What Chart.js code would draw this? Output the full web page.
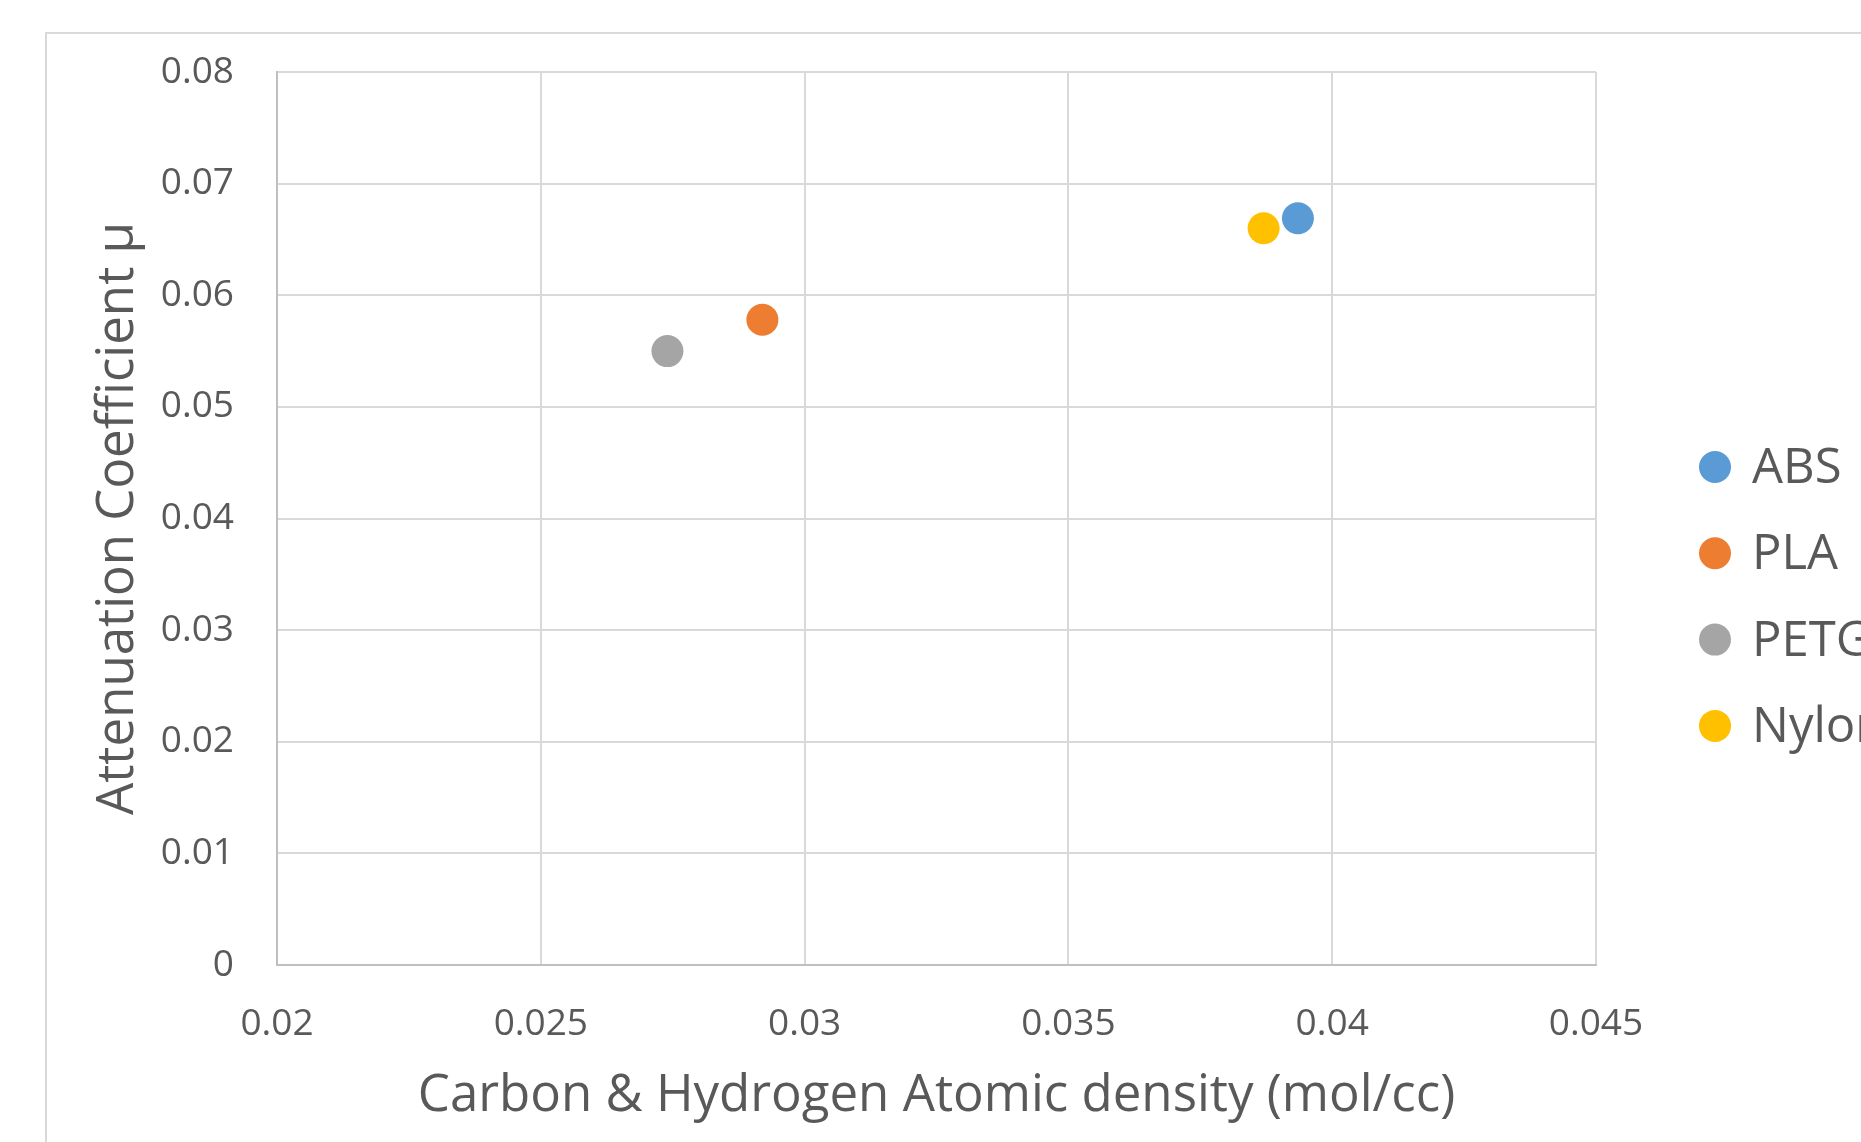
<!DOCTYPE html>
<html>
<head>
<meta charset="utf-8">
<script src="https://cdn.jsdelivr.net/npm/chart.js@4/dist/chart.umd.min.js"></script>
<style>
  html, body { margin: 0; padding: 0; background: #ffffff; }
  canvas { display: block; }
</style>
</head>
<body>
<canvas id="chart" width="1861" height="1142"></canvas>
<script>
// Materials and their measured values
const materials = ['ABS', 'PLA', 'PETG', 'Nylon'];
const atomicDensity = [0.03935, 0.0292, 0.0274, 0.0387];     // mol/cc
const attenuationCoeff = [0.0669, 0.0578, 0.0550, 0.0660];   // μ
const markerColors = ['#5b9bd5', '#ed7d31', '#a5a5a5', '#ffc000'];

// Axis tick labels
const xTickLabels = ['0.02', '0.025', '0.03', '0.035', '0.04', '0.045'];
const yTickLabels = ['0', '0.01', '0.02', '0.03', '0.04', '0.05', '0.06', '0.07', '0.08'];

const textColor = '#595959';
const fontFamily = '"Open Sans", "Noto Sans", sans-serif';

const datasets = materials.map((name, i) => ({
  label: name,
  data: [{ x: atomicDensity[i], y: attenuationCoeff[i] }],
  backgroundColor: markerColors[i],
  borderWidth: 0,
  pointRadius: 16,
  pointHoverRadius: 16
}));

// Light outer frame around the chart
const framePlugin = {
  id: 'frame',
  beforeDraw(chart) {
    const ctx = chart.ctx;
    ctx.save();
    ctx.fillStyle = '#ffffff';
    ctx.fillRect(0, 0, chart.width, chart.height);
    ctx.strokeStyle = '#d9d9d9';
    ctx.lineWidth = 2;
    ctx.strokeRect(46, 33, chart.width + 100, chart.height + 100);
    ctx.restore();
  }
};

// Legend on the right with round markers
const sideLegend = {
  id: 'sideLegend',
  afterDraw(chart) {
    const ctx = chart.ctx;
    ctx.save();
    ctx.font = '49px ' + fontFamily;
    ctx.textBaseline = 'middle';
    ctx.textAlign = 'left';
    chart.data.datasets.forEach((ds, i) => {
      const y = 467 + i * 86.3;
      ctx.beginPath();
      ctx.arc(1715, y, 16, 0, Math.PI * 2);
      ctx.fillStyle = ds.backgroundColor;
      ctx.fill();
      ctx.fillStyle = textColor;
      ctx.fillText(ds.label, 1752, y + 2);
    });
    ctx.restore();
  }
};

new Chart(document.getElementById('chart'), {
  type: 'scatter',
  data: { datasets },
  options: {
    responsive: false,
    maintainAspectRatio: false,
    devicePixelRatio: 1,
    animation: false,
    layout: { padding: { top: 72, right: 265, left: 0, bottom: 0 } },
    plugins: {
      legend: { display: false },
      tooltip: { enabled: false }
    },
    scales: {
      x: {
        type: 'linear',
        min: 0.02,
        max: 0.045,
        afterFit(scale) { scale.height = 177; },
        ticks: {
          stepSize: 0.005,
          color: textColor,
          font: { family: fontFamily, size: 37 },
          padding: 37,
          maxRotation: 0,
          callback: (v, i) => xTickLabels[i]
        },
        grid: { color: '#d9d9d9', lineWidth: 2, drawTicks: false },
        border: { color: '#bfbfbf', width: 2 },
        title: {
          display: true,
          text: 'Carbon & Hydrogen Atomic density (mol/cc)',
          color: textColor,
          font: { family: fontFamily, size: 51 },
          padding: { top: 0, bottom: 15 }
        }
      },
      y: {
        type: 'linear',
        min: 0,
        max: 0.08,
        afterFit(scale) { scale.width = 277; },
        ticks: {
          stepSize: 0.01,
          color: textColor,
          font: { family: fontFamily, size: 37 },
          padding: 43,
          callback: (v, i) => yTickLabels[i]
        },
        grid: { color: '#d9d9d9', lineWidth: 2, drawTicks: false },
        border: { color: '#bfbfbf', width: 2 },
        title: {
          display: true,
          text: 'Attenuation Coefficient μ',
          color: textColor,
          font: { family: fontFamily, size: 51 },
          padding: { top: 88, bottom: 0 }
        }
      }
    }
  },
  plugins: [framePlugin, sideLegend]
});
</script>
</body>
</html>
